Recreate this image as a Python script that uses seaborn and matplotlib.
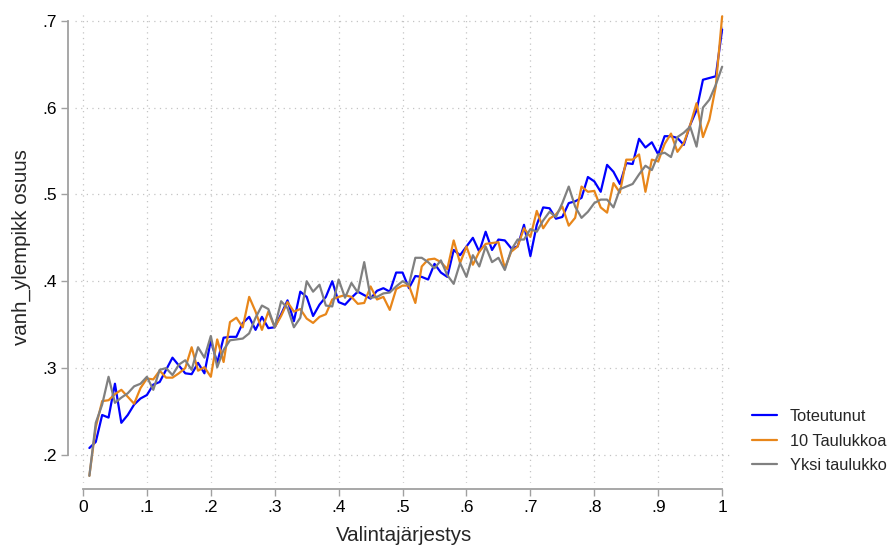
import numpy as np
import pandas as pd
import matplotlib
matplotlib.use("Agg")
import matplotlib.pyplot as plt
import seaborn as sns

# Valintajärjestys (selection order) grid
valinta = [round(i / 100, 2) for i in range(1, 101)]

toteutunut = [
    0.208, 0.215, 0.246, 0.243, 0.282, 0.237, 0.246, 0.258, 0.265, 0.269,
    0.281, 0.284, 0.298, 0.312, 0.303, 0.294, 0.293, 0.306, 0.294, 0.332,
    0.306, 0.335, 0.336, 0.336, 0.352, 0.359, 0.344, 0.359, 0.346, 0.347,
    0.362, 0.378, 0.354, 0.388, 0.382, 0.360, 0.373, 0.382, 0.400, 0.376,
    0.373, 0.381, 0.388, 0.384, 0.380, 0.389, 0.392, 0.388, 0.410, 0.410,
    0.392, 0.406, 0.405, 0.402, 0.420, 0.410, 0.405, 0.436, 0.430, 0.440,
    0.450, 0.434, 0.457, 0.436, 0.448, 0.447, 0.438, 0.440, 0.465, 0.429,
    0.465, 0.485, 0.484, 0.472, 0.474, 0.490, 0.492, 0.496, 0.520, 0.515,
    0.503, 0.534, 0.526, 0.512, 0.536, 0.535, 0.564, 0.554, 0.560, 0.546,
    0.567, 0.567, 0.565, 0.557, 0.580, 0.597, 0.632, 0.634, 0.636, 0.690,
]

kymmenen_taulukkoa = [
    0.176, 0.232, 0.262, 0.263, 0.270, 0.275, 0.267, 0.259, 0.277, 0.288,
    0.287, 0.297, 0.289, 0.289, 0.294, 0.300, 0.324, 0.297, 0.301, 0.290,
    0.333, 0.307, 0.353, 0.358, 0.347, 0.382, 0.365, 0.344, 0.365, 0.347,
    0.360, 0.376, 0.365, 0.368, 0.357, 0.352, 0.359, 0.362, 0.379, 0.382,
    0.384, 0.382, 0.374, 0.375, 0.394, 0.379, 0.382, 0.367, 0.391, 0.395,
    0.395, 0.375, 0.417, 0.425, 0.426, 0.422, 0.414, 0.447, 0.421, 0.440,
    0.419, 0.434, 0.443, 0.444, 0.445, 0.415, 0.434, 0.440, 0.461, 0.451,
    0.481, 0.461, 0.472, 0.477, 0.486, 0.464, 0.473, 0.509, 0.503, 0.504,
    0.485, 0.479, 0.513, 0.502, 0.540, 0.540, 0.546, 0.503, 0.540, 0.538,
    0.558, 0.570, 0.549, 0.559, 0.580, 0.605, 0.566, 0.586, 0.624, 0.705,
]

yksi_taulukko = [
    0.176, 0.237, 0.258, 0.290, 0.260, 0.266, 0.271, 0.279, 0.282, 0.290,
    0.275, 0.298, 0.300, 0.292, 0.304, 0.309, 0.298, 0.324, 0.312, 0.337,
    0.301, 0.321, 0.332, 0.333, 0.334, 0.340, 0.358, 0.372, 0.368, 0.347,
    0.377, 0.369, 0.347, 0.358, 0.400, 0.388, 0.396, 0.372, 0.371, 0.402,
    0.381, 0.398, 0.387, 0.422, 0.381, 0.382, 0.386, 0.387, 0.394, 0.400,
    0.396, 0.427, 0.427, 0.422, 0.415, 0.424, 0.407, 0.397, 0.421, 0.405,
    0.430, 0.417, 0.440, 0.422, 0.427, 0.413, 0.436, 0.448, 0.448, 0.460,
    0.457, 0.470, 0.480, 0.474, 0.490, 0.509, 0.486, 0.473, 0.480, 0.490,
    0.494, 0.494, 0.485, 0.506, 0.509, 0.512, 0.523, 0.533, 0.528, 0.546,
    0.548, 0.543, 0.566, 0.571, 0.578, 0.555, 0.600, 0.609, 0.626, 0.647,
]

sarjat = ["Toteutunut", "10 Taulukkoa", "Yksi taulukko"]
varit = ["#0000ff", "#e8861a", "#808080"]

x_ticks = [0, 0.1, 0.2, 0.3, 0.4, 0.5, 0.6, 0.7, 0.8, 0.9, 1.0]
x_ticklabels = ["0", ".1", ".2", ".3", ".4", ".5", ".6", ".7", ".8", ".9", "1"]
y_ticks = [0.2, 0.3, 0.4, 0.5, 0.6, 0.7]
y_ticklabels = [".2", ".3", ".4", ".5", ".6", ".7"]

df = pd.DataFrame({
    "Valintajärjestys": valinta * 3,
    "osuus": toteutunut + kymmenen_taulukkoa + yksi_taulukko,
    "sarja": [sarjat[0]] * 100 + [sarjat[1]] * 100 + [sarjat[2]] * 100,
})

sns.set_style("white")
plt.rcParams["font.family"] = ["Liberation Sans", "DejaVu Sans"]

fig = plt.figure(figsize=(8.89, 5.48), dpi=100)
ax = fig.add_axes([75 / 889, 65 / 548, 658 / 889, 471 / 548])

sns.lineplot(
    data=df, x="Valintajärjestys", y="osuus", hue="sarja",
    hue_order=sarjat, palette=varit, linewidth=1.6, ax=ax,
    estimator=None, sort=False,
)

ax.set_xlim(-0.0125, 1.017)
ax.set_ylim(0.1677, 0.710)

ax.set_xticks(x_ticks)
ax.set_xticklabels(x_ticklabels)
ax.set_yticks(y_ticks)
ax.set_yticklabels(y_ticklabels)

ax.grid(True, linestyle=(0, (1, 3.5)), color="#c4c4c4", linewidth=0.9)
ax.set_axisbelow(True)

for side in ["top", "right"]:
    ax.spines[side].set_visible(False)
ax.spines["left"].set_position(("outward", 5))
ax.spines["bottom"].set_position(("outward", 4.5))
ax.spines["left"].set_bounds(0.2, 0.7)
ax.spines["bottom"].set_bounds(0, 1)
for side in ["left", "bottom"]:
    ax.spines[side].set_color("#a0a0a0")
    ax.spines[side].set_linewidth(1.3)

ax.tick_params(axis="both", which="major", length=5, width=1.0,
               color="#a0a0a0", labelcolor="black", labelsize=12.5,
               direction="out", left=True, bottom=True, pad=3)

ax.set_xlabel("Valintajärjestys", fontsize=14.8, labelpad=8)
ax.set_ylabel("vanh_ylempikk osuus", fontsize=14.8, labelpad=8)

handles, labels = ax.get_legend_handles_labels()
ax.legend(handles, labels, loc="center left", bbox_to_anchor=(1.019, 0.089),
          frameon=False, fontsize=11.8, handlelength=1.52, handletextpad=0.8,
          labelspacing=0.58, borderaxespad=0)

fig.savefig("out.png", dpi=100)
